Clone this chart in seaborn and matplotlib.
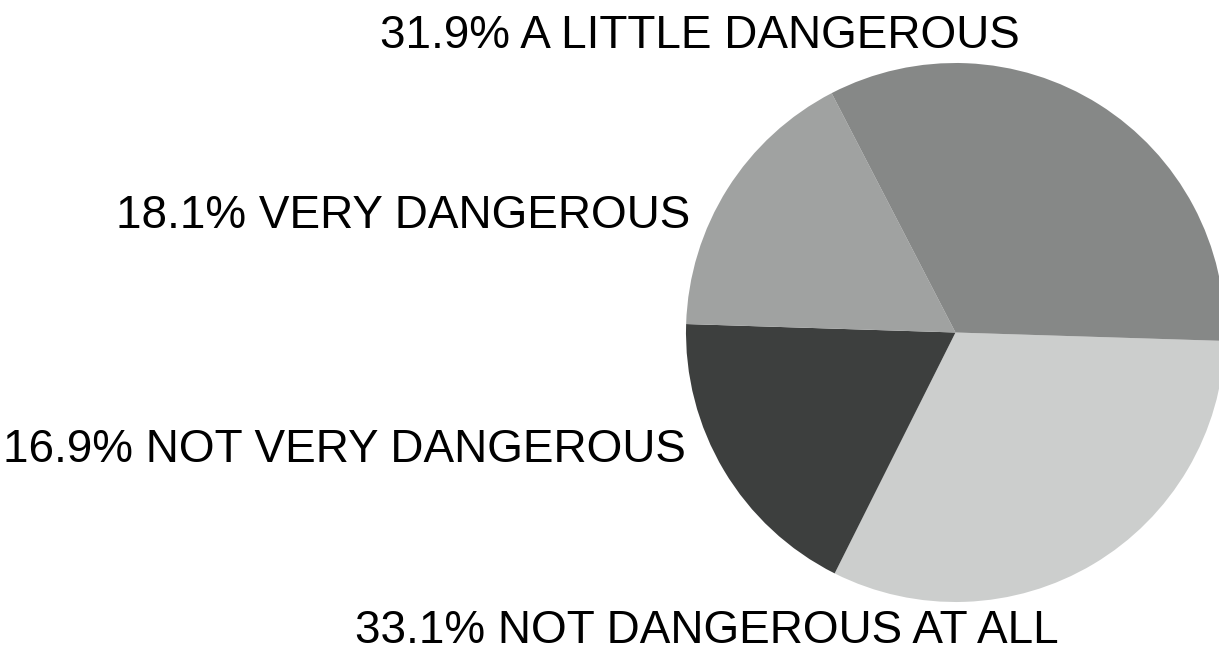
import matplotlib
matplotlib.use("Agg")
import matplotlib.pyplot as plt
import seaborn as sns

# Data (slice order as drawn, clockwise)
categories = ["A LITTLE DANGEROUS", "VERY DANGEROUS", "NOT VERY DANGEROUS", "NOT DANGEROUS AT ALL"]
values = [31.9, 18.1, 16.9, 33.1]
colors = ["#cccecd", "#3d3f3e", "#a0a2a1", "#868887"]

sns.set_theme(style="white")
plt.rcParams["font.family"] = ["Liberation Sans", "DejaVu Sans"]

W, H = 1219, 653
fig = plt.figure(figsize=(W / 100, H / 100), dpi=100)
ax = fig.add_axes([0, 0, 1, 1])

ax.pie(values, colors=colors, startangle=-1.8, counterclock=False,
       center=(955.5, H - 332.5), radius=269.5,
       wedgeprops=dict(linewidth=0), frame=True)
ax.set_xlim(0, W)
ax.set_ylim(0, H)
ax.set_aspect("auto")
ax.axis("off")

labels = [f"{v}% {c}" for v, c in zip(values, categories)]
fs = 33
ax.text(700, H - 48, labels[0], ha="center", va="baseline", fontsize=fs, color="black")
ax.text(690, H - 228, labels[1], ha="right", va="baseline", fontsize=fs, color="black")
ax.text(686, H - 462, labels[2], ha="right", va="baseline", fontsize=fs, color="black")
ax.text(707, H - 643, labels[3], ha="center", va="baseline", fontsize=fs, color="black")

fig.savefig("out.png", dpi=100)
